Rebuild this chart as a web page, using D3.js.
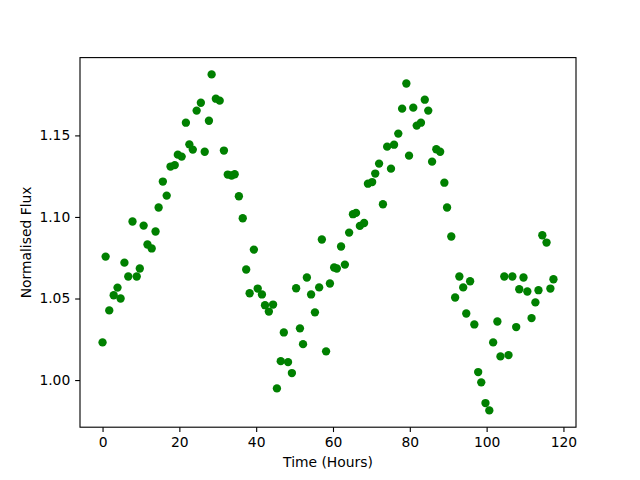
<!DOCTYPE html>
<html>
<head>
<meta charset="utf-8">
<script src="https://cdn.jsdelivr.net/npm/d3@7"></script>
<style>
  body { margin: 0; background: #fff; }
  svg { display: block; font-family: "DejaVu Sans", sans-serif; }
</style>
</head>
<body>
<div id="chart"></div>
<script>
// time in hours
const hours = [
  0, 0.8, 1.75, 2.9, 3.9, 4.7, 5.7, 6.7, 7.8, 8.9,
  9.7, 10.7, 11.7, 12.8, 13.8, 14.6, 15.7, 16.7, 17.7, 18.8,
  19.6, 20.6, 21.7, 22.6, 23.5, 24.5, 25.6, 26.6, 27.7, 28.4,
  29.5, 30.5, 31.6, 32.6, 33.6, 34.4, 35.5, 36.5, 37.4, 38.3,
  39.4, 40.4, 41.5, 42.3, 43.3, 44.4, 45.4, 46.4, 47.2, 48.3,
  49.3, 50.4, 51.4, 52.2, 53.2, 54.3, 55.3, 56.4, 57.1, 58.2,
  59.2, 60.3, 61.0, 62.1, 63.1, 64.2, 65.2, 66.0, 67.0, 68.1,
  69.1, 70.2, 71.0, 72.0, 73.0, 74.1, 75.1, 75.9, 77.0, 78.0,
  79.1, 79.8, 80.9, 81.8, 82.9, 83.9, 84.8, 85.8, 86.9, 87.9,
  89.0, 89.7, 90.8, 91.8, 92.9, 93.9, 94.7, 95.7, 96.8, 97.8,
  98.6, 99.7, 100.7, 101.7, 102.8, 103.6, 104.6, 105.7, 106.7, 107.7,
  108.5, 109.6, 110.6, 111.7, 112.7, 113.5, 114.5, 115.6, 116.6, 117.4
];

// normalised flux
const flux = [
  1.0231, 1.0757, 1.0427, 1.0520, 1.0567, 1.0500, 1.0720, 1.0635, 1.0972, 1.0635,
  1.0684, 1.0947, 1.0831, 1.0807, 1.0911, 1.1058, 1.1217, 1.1131, 1.1309, 1.1318,
  1.1382, 1.1370, 1.1578, 1.1445, 1.1413, 1.1652, 1.1700, 1.1400, 1.1590, 1.1874,
  1.1725, 1.1713, 1.1407, 1.1260, 1.1254, 1.1262, 1.1127, 1.0992, 1.0678, 1.0532,
  1.0800, 1.0561, 1.0525, 1.0459, 1.0420, 1.0463, 0.9949, 1.0116, 1.0292, 1.0110,
  1.0043, 1.0563, 1.0317, 1.0220, 1.0629, 1.0525, 1.0415, 1.0568, 1.0862, 1.0176,
  1.0592, 1.0690, 1.0684, 1.0819, 1.0708, 1.0904, 1.1017, 1.1025, 1.0945, 1.0963,
  1.1204, 1.1214, 1.1266, 1.1327, 1.1078, 1.1431, 1.1296, 1.1443, 1.1511, 1.1664,
  1.1818, 1.1376, 1.1670, 1.1560, 1.1578, 1.1719, 1.1652, 1.1339, 1.1415, 1.1400,
  1.1210, 1.1058, 1.0880, 1.0506, 1.0635, 1.0568, 1.0408, 1.0606, 1.0341, 1.0049,
  0.9986, 0.9859, 0.9814, 1.0231, 1.0359, 1.0145, 1.0635, 1.0153, 1.0635, 1.0325,
  1.0557, 1.0629, 1.0543, 1.0380, 1.0476, 1.0551, 1.0888, 1.0843, 1.0561, 1.0618
];

const xTicks = [0, 20, 40, 60, 80, 100, 120];
const yTicks = [1.00, 1.05, 1.10, 1.15];

const width = 640;
const height = 480;
const margin = { top: 57.6, right: 64, bottom: 52.8, left: 80 };
const pt = 100 / 72;

const data = hours.map((h, i) => [h, flux[i]]);

// matplotlib style 5% padding on both axes
function padded(ext) {
  const span = ext[1] - ext[0];
  return [ext[0] - span * 0.05, ext[1] + span * 0.05];
}

const x = d3
  .scaleLinear()
  .domain(padded(d3.extent(hours)))
  .range([margin.left, width - margin.right]);
const y = d3
  .scaleLinear()
  .domain(padded(d3.extent(flux)))
  .range([height - margin.bottom, margin.top]);

const svg = d3
  .select('#chart')
  .append('svg')
  .attr('width', width)
  .attr('height', height);

svg
  .append('g')
  .selectAll('circle')
  .data(data)
  .enter()
  .append('circle')
  .attr('cx', (d) => x(d[0]))
  .attr('cy', (d) => y(d[1]))
  .attr('r', 3 * pt)
  .attr('fill', '#008000');

const xAxis = svg
  .append('g')
  .attr('transform', `translate(0, ${height - margin.bottom})`)
  .call(
    d3
      .axisBottom(x)
      .tickValues(xTicks)
      .tickSizeOuter(0)
      .tickSize(3.5 * pt)
      .tickPadding(3.5 * pt)
  );

const yAxis = svg
  .append('g')
  .attr('transform', `translate(${margin.left}, 0)`)
  .call(
    d3
      .axisLeft(y)
      .tickValues(yTicks)
      .tickFormat(d3.format('.2f'))
      .tickSizeOuter(0)
      .tickSize(3.5 * pt)
      .tickPadding(3.5 * pt)
  );

[xAxis, yAxis].forEach((g) => {
  g.select('.domain').remove();
  g.selectAll('.tick line').attr('stroke', '#000').attr('stroke-width', 0.8 * pt);
  g.selectAll('.tick text')
    .attr('fill', '#000')
    .style('font-family', '"DejaVu Sans", sans-serif')
    .style('font-size', `${10 * pt}px`);
});

// frame
svg
  .append('rect')
  .attr('x', margin.left)
  .attr('y', margin.top)
  .attr('width', width - margin.left - margin.right)
  .attr('height', height - margin.top - margin.bottom)
  .attr('fill', 'none')
  .attr('stroke', '#000')
  .attr('stroke-width', 0.8 * pt);

svg
  .append('text')
  .attr('x', (margin.left + width - margin.right) / 2)
  .attr('y', 467)
  .attr('text-anchor', 'middle')
  .style('font-size', `${10 * pt}px`)
  .text('Time (Hours)');

svg
  .append('text')
  .attr('transform', `translate(31, ${(margin.top + height - margin.bottom) / 2}) rotate(-90)`)
  .attr('text-anchor', 'middle')
  .style('font-size', `${10 * pt}px`)
  .text('Normalised Flux');
</script>
</body>
</html>
